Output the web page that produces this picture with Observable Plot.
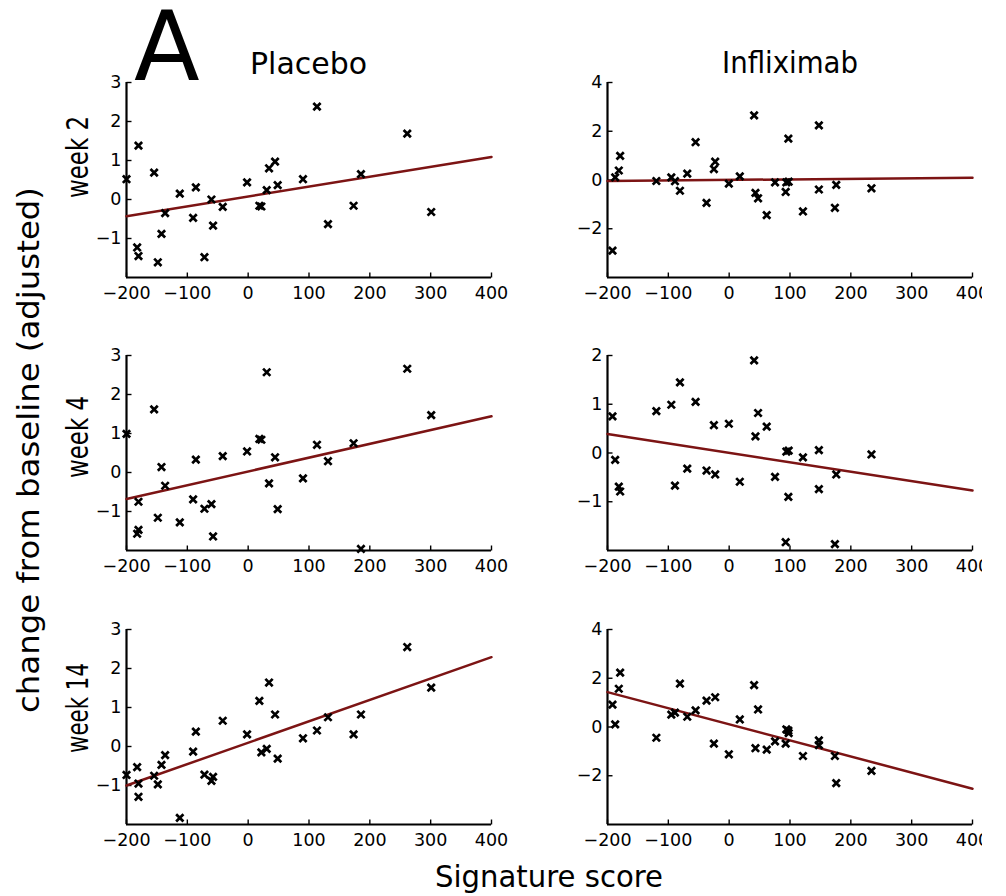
<!DOCTYPE html>
<html>
<head>
<meta charset="utf-8">
<script src="https://cdn.jsdelivr.net/npm/d3@7"></script>
<script src="https://cdn.jsdelivr.net/npm/@observablehq/plot@0.6"></script>
<style>
html, body { margin: 0; padding: 0; background: #fff; }
#fig { position: relative; width: 982px; height: 896px; overflow: hidden; background: #fff; font-family: "DejaVu Sans", sans-serif; }
#fig > svg { position: absolute; }
</style>
</head>
<body>
<div id="fig"></div>
<script>
// ---------------- data ----------------
const xTicks = [-200, -100, 0, 100, 200, 300, 400];
const xDomain = [-200, 400];

const colTitles = ["Placebo", "Infliximab"];
const rowTitles = ["week 2", "week 4", "week 14"];
const xLabel = "Signature score";
const yLabel = "change from baseline (adjusted)";
const panelLetter = "A";

// Signature score of each patient (same patients across weeks)
const placeboX = [-200, -180.3, -182.5, -180.3, -154.6, -142.5, -148.5, -136.5, -112.4, -90.5, -86, -71.9, -60.4, -57.7, -41.8, -1.8, 18.4, 21.7, 30.5, 34.3, 44.2, 48.5, 90.1, 113.1, 131.2, 173.3, 185.4, 261.5, 300.9];
const placeboW2 = [0.52, 1.38, -1.23, -1.45, 0.69, -0.88, -1.61, -0.35, 0.15, -0.47, 0.31, -1.48, 0, -0.67, -0.19, 0.44, -0.16, -0.18, 0.24, 0.80, 0.97, 0.37, 0.52, 2.38, -0.63, -0.16, 0.65, 1.69, -0.32];
const placeboW4 = [0.99, -0.75, -1.57, -1.47, 1.62, 0.14, -1.16, -0.34, -1.28, -0.69, 0.33, -0.93, -0.81, -1.64, 0.42, 0.54, 0.86, 0.84, 2.57, -0.28, 0.39, -0.94, -0.15, 0.71, 0.29, 0.75, -1.96, 2.66, 1.47];
const placeboW14 = [-0.73, -0.95, -0.53, -1.29, -0.75, -0.47, -0.97, -0.22, -1.83, -0.13, 0.38, -0.72, -0.88, -0.78, 0.66, 0.31, 1.17, -0.15, -0.06, 1.64, 0.82, -0.31, 0.21, 0.41, 0.75, 0.31, 0.82, 2.55, 1.51];

const inflixX = [-191.8, -187.4, -181.4, -179.2, -119.7, -95.1, -89.1, -80.9, -68.9, -55.2, -37.2, -25.1, -23, -0.5, 17.5, 41, 43.2, 47.5, 61.7, 75.4, 92.9, 94, 97.8, 97.3, 121.3, 147.5, 147.5, 173.8, 176, 233.9];
const inflixW2 = [-2.90, 0.11, 0.39, 0.99, -0.04, 0.11, -0.05, -0.44, 0.26, 1.55, -0.94, 0.45, 0.75, -0.15, 0.15, 2.65, -0.53, -0.75, -1.44, -0.10, -0.49, -0.10, -0.07, 1.70, -1.29, 2.24, -0.39, -1.14, -0.20, -0.34];
const inflixW4 = [0.75, -0.14, -0.69, -0.79, 0.86, 0.99, -0.67, 1.45, -0.32, 1.05, -0.36, 0.57, -0.44, 0.60, -0.59, 1.90, 0.34, 0.82, 0.54, -0.49, -1.83, 0.03, 0.05, -0.90, -0.09, 0.06, -0.74, -1.87, -0.44, -0.03];
const inflixW14 = [0.92, 0.11, 1.57, 2.23, -0.44, 0.51, 0.59, 1.78, 0.42, 0.68, 1.08, -0.68, 1.22, -1.12, 0.31, 1.72, -0.87, 0.72, -0.93, -0.59, -0.68, -0.10, -0.25, -0.15, -1.19, -0.55, -0.74, -1.19, -2.30, -1.80];

// fitted line: value at x = -200 and at x = 400
const fitPlaceboW2 = [-0.43, 1.09];
const fitPlaceboW4 = [-0.68, 1.44];
const fitPlaceboW14 = [-1.00, 2.29];
const fitInflixW2 = [-0.04, 0.09];
const fitInflixW4 = [0.39, -0.77];
const fitInflixW14 = [1.43, -2.53];

// y domains and ticks per panel
const yDomPlacebo = [-2, 3];
const yTicksPlacebo = [-1, 0, 1, 2, 3];
const yDomInflix24 = [-4, 4];
const yTicksInflix24 = [-2, 0, 2, 4];
const yDomInflixW4 = [-2, 2];
const yTicksInflixW4 = [-1, 0, 1, 2];

// ---------------- layout ----------------
const fig = document.getElementById("fig");
const FW = 365, FH = 195;
const ML = 46, MR = 16, MT = 12, MB = 34;
const colX = [126, 607];
const rowY = [82, 355, 629];

const tickUp = { draw(ctx) { ctx.moveTo(0, 0); ctx.lineTo(0, -5); } };
const tickRight = { draw(ctx) { ctx.moveTo(0, 0); ctx.lineTo(5, 0); } };
const fmt = d3.format("d");

const panels = [
  { r: 0, c: 0, xs: placeboX, ys: placeboW2, fit: fitPlaceboW2, dom: yDomPlacebo, ticks: yTicksPlacebo },
  { r: 0, c: 1, xs: inflixX, ys: inflixW2, fit: fitInflixW2, dom: yDomInflix24, ticks: yTicksInflix24 },
  { r: 1, c: 0, xs: placeboX, ys: placeboW4, fit: fitPlaceboW4, dom: yDomPlacebo, ticks: yTicksPlacebo },
  { r: 1, c: 1, xs: inflixX, ys: inflixW4, fit: fitInflixW4, dom: yDomInflixW4, ticks: yTicksInflixW4 },
  { r: 2, c: 0, xs: placeboX, ys: placeboW14, fit: fitPlaceboW14, dom: yDomPlacebo, ticks: yTicksPlacebo },
  { r: 2, c: 1, xs: inflixX, ys: inflixW14, fit: fitInflixW14, dom: yDomInflix24, ticks: yTicksInflix24 }
];

for (const p of panels) {
  const pts = p.xs.map((x, i) => ({ x, y: p.ys[i] }));
  const line = [{ x: xDomain[0], y: p.fit[0] }, { x: xDomain[1], y: p.fit[1] }];
  const ymin = p.dom[0];
  const svg = Plot.plot({
    width: ML + FW + MR,
    height: MT + FH + MB,
    marginLeft: ML, marginRight: MR, marginTop: MT, marginBottom: MB,
    x: { domain: xDomain, label: null },
    y: { domain: p.dom, label: null },
    style: { background: "transparent", fontFamily: "DejaVu Sans, sans-serif", fontSize: "17px", color: "black", overflow: "visible" },
    marks: [
      Plot.ruleX([xDomain[0]], { stroke: "black", strokeWidth: 2.2 }),
      Plot.ruleY([ymin], { stroke: "black", strokeWidth: 2.2 }),
      Plot.dot(xTicks, { x: d => d, y: () => ymin, symbol: tickUp, stroke: "black", fill: "none", strokeWidth: 1.4 }),
      Plot.dot(p.ticks, { x: () => xDomain[0], y: d => d, symbol: tickRight, stroke: "black", fill: "none", strokeWidth: 1.4 }),
      Plot.axisX({ ticks: xTicks, tickSize: 0, tickPadding: 9, tickFormat: fmt, fontSize: 17.5, fill: "black", label: null }),
      Plot.axisY({ ticks: p.ticks, tickSize: 0, tickPadding: 5, tickFormat: fmt, fontSize: 17.5, fill: "black", label: null }),
      Plot.line(line, { x: "x", y: "y", stroke: "#7c1414", strokeWidth: 2.5 }),
      Plot.dot(pts, { x: "x", y: "y", symbol: "times", r: 3.4, stroke: "black", strokeWidth: 2.7 })
    ]
  });
  svg.style.left = (colX[p.c] - ML) + "px";
  svg.style.top = (rowY[p.r] - MT) + "px";
  fig.appendChild(svg);
}

// ---------------- text overlay ----------------
const ns = "http://www.w3.org/2000/svg";
const ov = document.createElementNS(ns, "svg");
ov.setAttribute("width", 982);
ov.setAttribute("height", 896);
ov.style.left = "0px"; ov.style.top = "0px";
ov.style.pointerEvents = "none";
fig.appendChild(ov);
function addText(str, x, y, size, opts = {}) {
  const t = document.createElementNS(ns, "text");
  t.textContent = str;
  t.setAttribute("x", x);
  t.setAttribute("y", y);
  t.setAttribute("font-size", size);
  t.setAttribute("font-family", "DejaVu Sans, sans-serif");
  t.setAttribute("fill", "black");
  t.setAttribute("text-anchor", opts.anchor || "middle");
  if (opts.len) { t.setAttribute("textLength", opts.len); t.setAttribute("lengthAdjust", "spacingAndGlyphs"); }
  if (opts.rotate) t.setAttribute("transform", `rotate(-90 ${x} ${y})`);
  ov.appendChild(t);
}
addText(panelLetter, 134, 80, 96, { anchor: "start" });
addText(colTitles[0], 308.5, 74, 31, { len: 117 });
addText(colTitles[1], 790, 73, 31, { len: 136 });
addText(xLabel, 549, 887, 31, { len: 228 });
addText(rowTitles[0], 88, 157, 30, { len: 82, rotate: true });
addText(rowTitles[1], 88, 437, 30, { len: 82, rotate: true });
addText(rowTitles[2], 88, 708, 30, { len: 90, rotate: true });
addText(yLabel, 39, 450, 31, { len: 526, rotate: true });
</script>
</body>
</html>
